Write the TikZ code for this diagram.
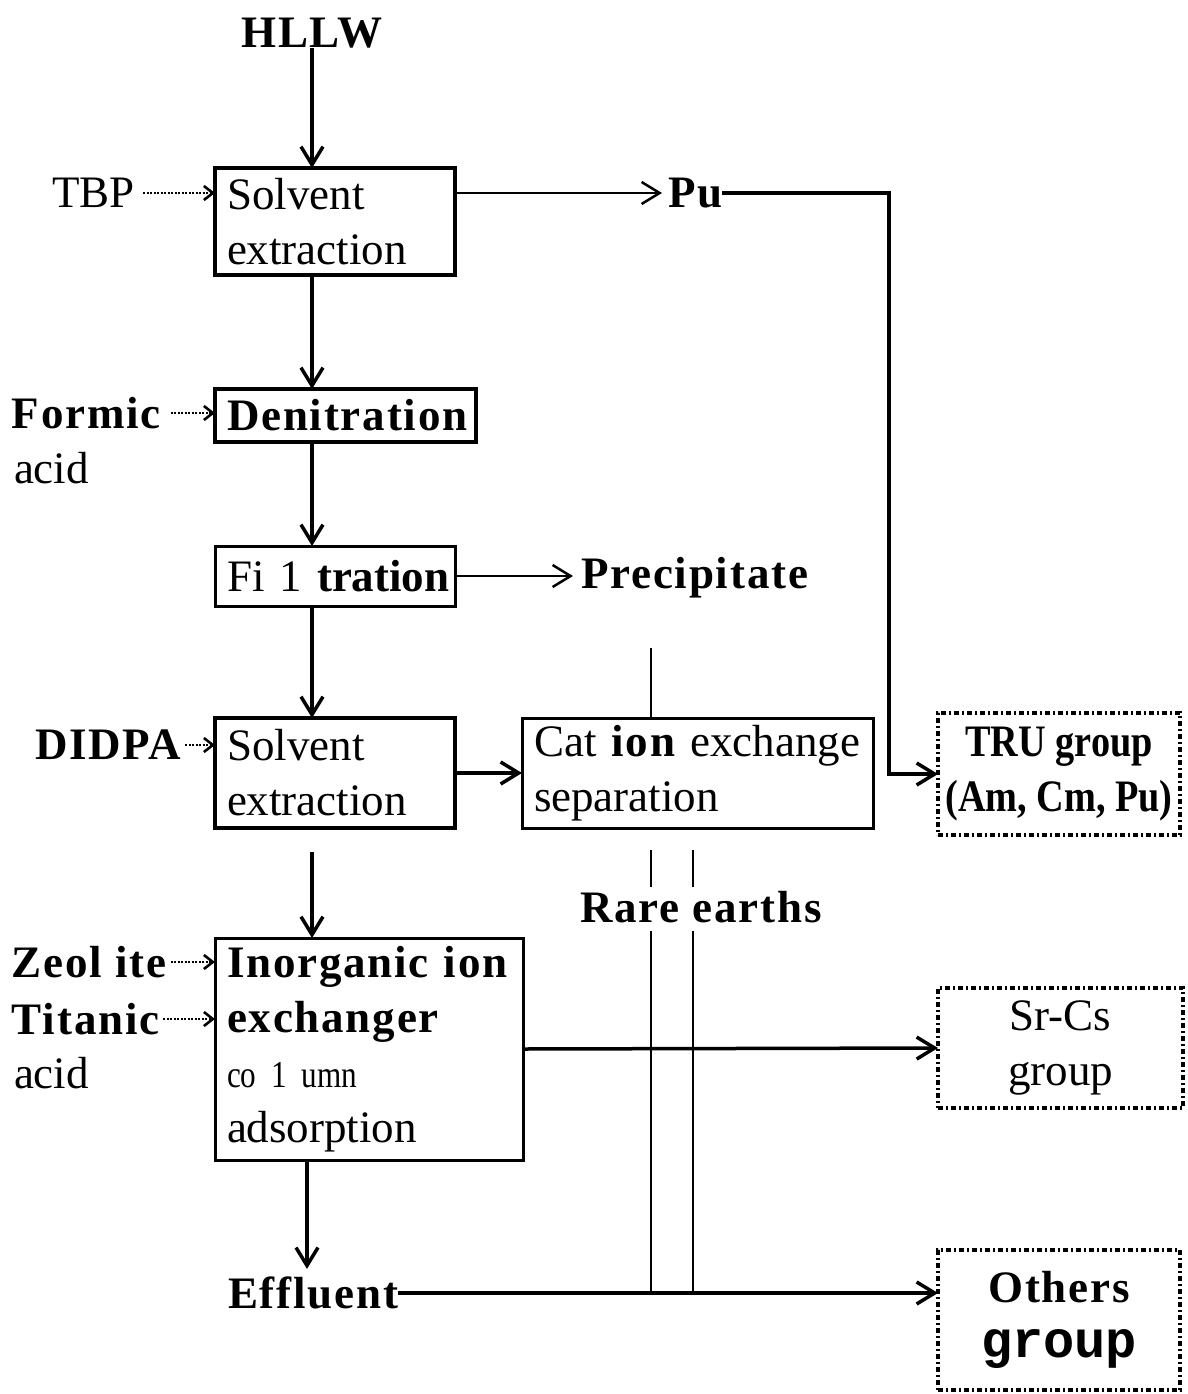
\documentclass[tikz,border=0pt]{standalone}
\usepackage{fontspec}
\setmainfont{Liberation Serif}
\newfontfamily\monofont{Liberation Mono}
\newfontfamily\narrowfont{Liberation Serif}[FakeStretch=0.82]
\newfontfamily\mfont{Liberation Serif Bold}[LetterSpace=4]
\newfontfamily\mnarrow{Liberation Serif Bold}[FakeStretch=0.85]
\usetikzlibrary{arrows.meta,positioning}
\newcommand{\sz}{\fontsize{45}{55}\selectfont}
\tikzset{
  base/.style={font=\sz, inner sep=0pt, outer sep=0pt},
  txt/.style={base},
  mtxt/.style={base, font=\sz\mfont},
  proc/.style={base, draw, line width=3.5pt, anchor=north west, align=left, inner xsep=12pt, inner ysep=0pt},
  group/.style={base, draw, line width=4.5pt, dash pattern=on 5pt off 3pt on 2pt off 3pt, anchor=north west, align=center},
  arrow/.style={-{Straight Barb[length=18pt,width=22pt]}, line width=3.5pt},
  feed/.style={-{Straight Barb[length=9pt,width=14pt]}, dash pattern=on 2pt off 1.5pt, line width=2.6pt},
  thinline/.style={line width=2.5pt}
}

\begin{document}
\begin{tikzpicture}[x=1pt, y=-1pt]
    \useasboundingbox (0,0) rectangle (1187,1394);
    \coordinate (col) at (312,0);
    \coordinate (turn) at (889,0);
    \coordinate (lineA) at (651,0);
    \coordinate (lineB) at (693,0);

    % main column
    \node[mtxt] (hllw) at (312,33) {HLLW};
    \node[proc, minimum width=240, minimum height=107, text width=216] (sx1) at (215,168) {Solvent\\extraction};
    \node[proc, minimum width=261, minimum height=53, text width=237, font=\sz\mfont] (denit) at (215,389) {Denitration};
    \node[proc, minimum width=240, minimum height=60, text width=216, line width=3pt] (filt) at (215,546) {\mbox{Fi 1 {\bfseries tration}}};
    \node[proc, minimum width=240, minimum height=110, text width=216] (sx2) at (215,718) {Solvent\\extraction};
    \node[proc, minimum width=351, minimum height=110, text width=327, line width=3pt] (cat) at (522,718) {Cat {\mfont ion} exchange\\separation};
    \node[proc, minimum width=308, minimum height=222, text width=284, line width=3pt] (inorg) at (215,938) {{\mfont Inorganic ion}\\{\mfont exchanger}\\{\narrowfont\fontsize{38}{55}\selectfont co 1 umn}\\adsorption};
    \node[mtxt, anchor=west] (effl) at (228,1293) {Effluent};

    % reagents
    \node[txt, anchor=east] (tbp) at (135,193) {TBP};
    \node[mtxt, anchor=west] (formic) at (12,413) {Formic};
    \node[txt, anchor=west] (acidA) at (14,468) {acid};
    \node[mtxt, anchor=west] (didpa) at (35,745) {DIDPA};
    \node[mtxt, anchor=west] (zeol) at (12,962) {Zeol ite};
    \node[mtxt, anchor=west] (titan) at (12,1019) {Titanic};
    \node[txt, anchor=west] (acidB) at (14,1073) {acid};

    % products
    \node[mtxt, anchor=west] (pu) at (668,193) {Pu};
    \node[mtxt, anchor=west] (precip) at (581,578) {Precipitate};
    \node[mtxt] (rare) at (701,907) {Rare earths};
    \node[group, minimum width=242, minimum height=122, font=\sz\mnarrow] (tru) at (938,713) {TRU group\\(Am, Cm, Pu)};
    \node[group, minimum width=245, minimum height=120] (srcs) at (938,988) {Sr-Cs\\group};
    \node[group, minimum width=242, minimum height=140] (others) at (938,1250) {{\mfont Others}\\{\monofont\bfseries\fontsize{52}{60}\selectfont group}};

    % flow
    \draw[arrow] (hllw) -- (col |- sx1.north);
    \draw[arrow] (col |- sx1.south) -- (col |- denit.north);
    \draw[arrow] (col |- denit.south) -- (col |- filt.north);
    \draw[arrow] (col |- filt.south) -- (col |- sx2.north);
    \draw[arrow, shorten <=24pt] (col |- sx2.south) -- (col |- inorg.north);
    \draw[arrow] ([xshift=-5pt]col |- inorg.south) -- ([xshift=-5pt, yshift=8pt]col |- effl.north);
    \draw[arrow, thinline] (sx1.east |- pu) -- ([xshift=-6pt]pu.west);
    \draw[arrow] (pu.east) -- (turn |- pu.east) -- (turn |- tru.west) -- (tru.west);
    \draw[arrow, thinline] (filt.east) -- ([xshift=-8pt]precip.west |- filt.east);
    \draw[arrow] (sx2.east |- cat.west) -- (cat.west);
    \draw[arrow] (inorg.east) -- (srcs.west);
    \draw[arrow] (effl.east) -- (others.west |- effl.east);

    % rare earths
    \draw[thinline, shorten <=50pt] (lineA |- precip.south) -- (lineA |- cat.north);
    \foreach \ln in {lineA, lineB} {
      \draw[thinline, shorten <=22pt, shorten >=4pt] (\ln |- cat.south) -- (\ln |- rare.north);
      \draw[thinline, shorten <=8pt] (\ln |- rare.south) -- (\ln |- effl.east);
    }

    % feeds
    \draw[feed, shorten <=8pt] (tbp.east) -- (sx1.west |- tbp.east);
    \draw[feed, shorten <=10pt] (formic.east) -- (denit.west |- formic.east);
    \draw[feed, shorten <=4pt] (didpa.east) -- (sx2.west |- didpa.east);
    \draw[feed, shorten <=4pt] (zeol.east) -- (inorg.west |- zeol.east);
    \draw[feed, shorten <=4pt] (titan.east) -- (inorg.west |- titan.east);
\end{tikzpicture}
\end{document}
